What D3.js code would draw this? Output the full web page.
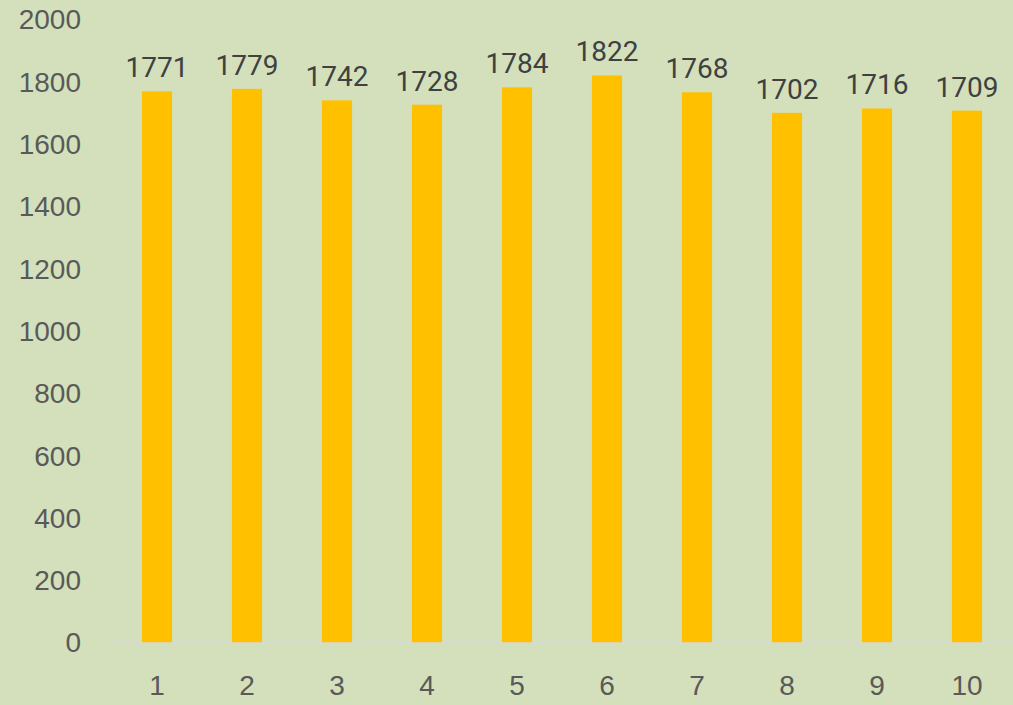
<!DOCTYPE html>
<html>
<head>
<meta charset="utf-8">
<script src="https://cdn.jsdelivr.net/npm/d3@7"></script>
<style>
  body { margin: 0; background: #d3e0bb; }
  svg { display: block; font-family: Roboto, "Noto Sans", sans-serif; }
</style>
</head>
<body>
<script>
// data
const categories = ['1', '2', '3', '4', '5', '6', '7', '8', '9', '10']
const values = [1771, 1779, 1742, 1728, 1784, 1822, 1768, 1702, 1716, 1709]
const yTicks = [0, 200, 400, 600, 800, 1000, 1200, 1400, 1600, 1800, 2000]

const width = 1013, height = 705
const margin = {top: 20, right: 1, bottom: 62, left: 112}

const svg = d3.select('body').append('svg')
    .attr('width', width)
    .attr('height', height)

svg.append('rect')
    .attr('width', width).attr('height', height)
    .attr('fill', '#d3e0bb')

var x = d3.scaleBand()
    .domain(categories)
    .range([margin.left, width - margin.right])
    .paddingInner(0.665)
    .paddingOuter(0.3325)

var y = d3.scaleLinear()
    .domain([0, 2000])
    .range([height - margin.bottom, margin.top])

// y axis labels (no line, no ticks)
const yAxis = svg.append('g')
    .attr('transform', `translate(${margin.left - 31},0)`)
    .call(d3.axisLeft(y).tickValues(yTicks).tickFormat(d3.format('d')).tickSize(0).tickPadding(0))
yAxis.select('.domain').remove()
yAxis.selectAll('text')
    .attr('fill', '#595959')
    .style('font-size', '28px')

// bars
svg.append('g')
    .selectAll('rect')
    .data(values)
    .enter().append('rect')
        .attr('x', (d, i) => x(categories[i]))
        .attr('y', d => y(d))
        .attr('width', x.bandwidth())
        .attr('height', d => y(0) - y(d))
        .attr('fill', '#ffc000')

// x axis
const xAxis = svg.append('g')
    .attr('transform', `translate(0,${y(0)})`)
    .call(d3.axisBottom(x).tickSize(0).tickPadding(32))
xAxis.select('.domain')
    .attr('stroke', '#d9d9d9')
    .attr('stroke-width', 1.5)
    .attr('d', `M${margin.left},0H${width}`)
xAxis.selectAll('text')
    .attr('fill', '#595959')
    .style('font-size', '28px')

// value labels
svg.append('g')
    .selectAll('text')
    .data(values)
    .enter().append('text')
        .attr('x', (d, i) => x(categories[i]) + x.bandwidth() / 2)
        .attr('y', d => y(d) - 14)
        .attr('text-anchor', 'middle')
        .attr('fill', '#404040')
        .style('font-size', '28px')
        .text(d => d)
</script>
</body>
</html>
